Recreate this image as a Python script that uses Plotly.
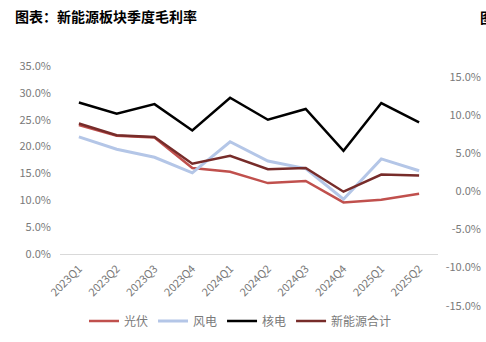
import plotly.graph_objects as go

W, H = 486, 342

quarters = ["2023Q1", "2023Q2", "2023Q3", "2023Q4", "2024Q1", "2024Q2",
            "2024Q3", "2024Q4", "2025Q1", "2025Q2"]
solar = [24.0, 22.0, 21.7, 16.0, 15.3, 13.2, 13.6, 9.6, 10.1, 11.2]
wind = [21.8, 19.5, 18.0, 15.1, 20.9, 17.3, 15.9, 10.2, 17.7, 15.5]
nuclear = [28.2, 26.1, 27.9, 23.0, 29.1, 25.0, 27.0, 19.2, 28.1, 24.5]
total = [24.3, 22.1, 21.8, 16.8, 18.3, 15.8, 16.0, 11.6, 14.8, 14.6]

left_ticks = [0, 5, 10, 15, 20, 25, 30, 35]
right_ticks = [-15, -10, -5, 0, 5, 10, 15]

series = [
    ("光伏", solar, "#C0504D", 2.5),
    ("风电", wind, "#B4C6E7", 3),
    ("核电", nuclear, "#000000", 2.5),
    ("新能源合计", total, "#772C2A", 2.5),
]

FONT = "Noto Sans CJK SC"
GRAY = "#7A7A7A"

def py(px):
    return 1 - px / H

def pxx(px):
    return px / W

fig = go.Figure()
for name, vals, color, w in series:
    fig.add_trace(go.Scatter(x=quarters, y=vals, name=name, mode="lines",
                             line=dict(color=color, width=w)))

# empty trace on a hidden subplot so the secondary axis is drawn
fig.add_trace(go.Scatter(x=[0], y=[None], xaxis="x2", yaxis="y2",
                         showlegend=False, hoverinfo="skip", mode="lines"))

# right axis: 1% = 7.633 px, 0% at 191.2 px
r_per = (305.7 - 76.7) / 30.0
r_top, r_bot = 16, -16
r_top_px = 191.2 - r_top * r_per
r_bot_px = 191.2 - r_bot * r_per

fig.update_layout(
    width=W, height=H,
    margin=dict(l=0, r=0, t=0, b=0, autoexpand=False),
    paper_bgcolor="white", plot_bgcolor="white",
    font=dict(family=FONT, color=GRAY, size=11),
    title=dict(text="<b>图表：新能源板块季度毛利率</b>", x=pxx(15), y=py(17),
               xref="paper", yref="paper", xanchor="left", yanchor="middle",
               automargin=False,
               font=dict(size=14, color="#000000", family=FONT)),
    xaxis=dict(domain=[pxx(60), pxx(438)], type="category", automargin=False,
               range=[-0.5, len(quarters) - 0.5], showgrid=False, showline=True,
               linecolor="#D9D9D9", linewidth=1, ticks="", tickangle=-45,
               ticklabelstandoff=3,
               tickfont=dict(size=11, color=GRAY), zeroline=False),
    yaxis=dict(domain=[py(254), py(66)], range=[0, 35], tickvals=left_ticks,
               automargin=False, ticklabelstandoff=8,
               ticktext=[f"{v:.1f}%" for v in left_ticks], showgrid=False,
               zeroline=False, showline=False, ticks="",
               tickfont=dict(size=11, color=GRAY)),
    xaxis2=dict(domain=[pxx(482), pxx(485)], anchor="y2", visible=False,
                automargin=False, range=[0, 1]),
    yaxis2=dict(domain=[py(r_bot_px), py(r_top_px)], range=[r_bot, r_top],
                tickvals=right_ticks, ticktext=[f"{v:.1f}%" for v in right_ticks],
                anchor="x2", side="left", automargin=False,
                showgrid=False, zeroline=False, showline=False, ticks="",
                tickfont=dict(size=11, color=GRAY)),
    legend=dict(orientation="h", x=pxx(84), y=py(321), xanchor="left",
                yanchor="middle", font=dict(size=12, color=GRAY),
                bgcolor="rgba(0,0,0,0)"),
    showlegend=True,
    annotations=[
        dict(text="<b>图</b>", x=pxx(478), y=py(17), xref="paper", yref="paper",
             xanchor="left", yanchor="middle", showarrow=False,
             font=dict(size=14, color="#000000", family=FONT)),
    ],
)

fig.write_html("out.html")
